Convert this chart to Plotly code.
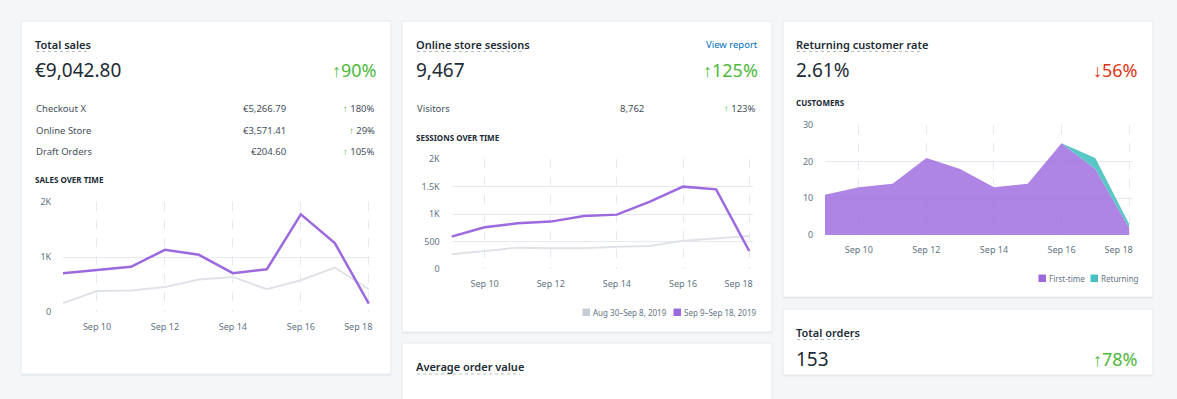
import plotly.graph_objects as go

W, H = 1177, 399

# ---------------- data ----------------
days = [9, 10, 11, 12, 13, 14, 15, 16, 17, 18]
tick_days = [10, 12, 14, 16, 18]
tick_labels = ["Sep 10", "Sep 12", "Sep 14", "Sep 16", "Sep 18"]

sales_current = [707, 762, 823, 1134, 1043, 707, 780, 1780, 1256, 152]
sales_previous = [165, 384, 390, 457, 591, 640, 415, 579, 811, 415]

sessions_current = [594, 764, 836, 867, 970, 994, 1230, 1503, 1454, 333]
sessions_previous = [273, 333, 394, 382, 382, 412, 424, 521, 564, 606]

customers_first = [11, 13, 14, 21, 18, 13, 14, 25, 18, 2]
customers_returning = [0, 0, 0, 0, 0, 0, 0, 0, 3, 1]

sales_ticks = [0, 1000, 2000]
sales_tick_text = ["0", "1K", "2K"]
sessions_ticks = [0, 500, 1000, 1500, 2000]
sessions_tick_text = ["0", "500", "1K", "1.5K", "2K"]
customer_ticks = [0, 10, 20, 30]

sales_rows = ["Checkout X", "Online Store", "Draft Orders"]
sales_row_values = ["€5,266.79", "€3,571.41", "€204.60"]
sales_row_pct = ["180%", "29%", "105%"]

legend_prev = "Aug 30–Sep 8, 2019"
legend_curr = "Sep 9–Sep 18, 2019"

# ---------------- style ----------------
FONT = "Noto Sans"
PURPLE = "#9c6ade"
GRAY_LINE = "#dfe3e8"
TEAL = "#47c1bf"
DARK = "#212b36"
TEXT2 = "#454f5b"
TICK = "#637381"
GREEN = "#50b83c"
RED = "#de3618"
BLUE = "#006fbb"
GRID = "#e6e9ed"
BG = "#f4f6f8"


def X(p):
    return p / W


def Y(p):
    return 1 - p / H


fig = go.Figure()

# chart 1: sales over time
fig.add_trace(go.Scatter(x=days, y=sales_previous, mode="lines", line=dict(color=GRAY_LINE, width=2),
                         xaxis="x", yaxis="y", showlegend=False, hoverinfo="skip"))
fig.add_trace(go.Scatter(x=days, y=sales_current, mode="lines", line=dict(color=PURPLE, width=2.5),
                         xaxis="x", yaxis="y", showlegend=False, hoverinfo="skip"))
# chart 2: sessions
fig.add_trace(go.Scatter(x=days, y=sessions_previous, mode="lines", line=dict(color=GRAY_LINE, width=2),
                         xaxis="x2", yaxis="y2", showlegend=False, hoverinfo="skip"))
fig.add_trace(go.Scatter(x=days, y=sessions_current, mode="lines", line=dict(color=PURPLE, width=2.5),
                         xaxis="x2", yaxis="y2", showlegend=False, hoverinfo="skip"))
# chart 3: customers (stacked area)
fig.add_trace(go.Scatter(x=days, y=customers_first, mode="lines", stackgroup="c",
                         line=dict(width=0, color=PURPLE), fillcolor="rgba(156,106,222,0.82)",
                         xaxis="x3", yaxis="y3", showlegend=False, hoverinfo="skip"))
fig.add_trace(go.Scatter(x=days, y=customers_returning, mode="lines", stackgroup="c",
                         line=dict(width=0, color=TEAL), fillcolor="rgba(71,193,191,0.9)",
                         xaxis="x3", yaxis="y3", showlegend=False, hoverinfo="skip"))

pad = "\u00a0" * 9
xt = [t + pad if i == len(tick_labels) - 1 else t for i, t in enumerate(tick_labels)]


def xaxis(x0, x1, hi, anchor):
    return dict(domain=[X(x0), X(x1)], range=[9, hi], anchor=anchor, automargin=False,
                tickmode="array", tickvals=tick_days, ticktext=xt,
                showgrid=True, gridcolor=GRID, griddash="dash", gridwidth=1,
                zeroline=False, showline=False,
                ticks="outside", ticklen=6, tickcolor="rgba(0,0,0,0)",
                tickfont=dict(family=FONT, size=9, color=TICK), fixedrange=True)


def yaxis(y0, y1, rng, tv, tt, anchor):
    return dict(domain=[Y(y0), Y(y1)], range=rng, anchor=anchor, automargin=False,
                tickmode="array", tickvals=tv, ticktext=tt,
                showgrid=True, gridcolor=GRID, gridwidth=1, zeroline=False,
                showline=False, ticks="outside", ticklen=9, tickcolor="rgba(0,0,0,0)",
                tickfont=dict(family=FONT, size=9, color=TICK), fixedrange=True)


layout = dict(
    width=W, height=H, margin=dict(l=0, r=0, t=0, b=0, pad=0, autoexpand=False),
    paper_bgcolor=BG, plot_bgcolor="rgba(0,0,0,0)", showlegend=False,
    font=dict(family=FONT, color=DARK),
    xaxis=xaxis(63, 370.5, 18.05, "y"),
    yaxis=yaxis(312, 202.3, [0, 2000], sales_ticks, sales_tick_text, "x"),
    xaxis2=xaxis(451.5, 752.5, 18.1, "y2"),
    yaxis2=yaxis(269.3, 159.3, [0, 2000], sessions_ticks, sessions_tick_text, "x2"),
    xaxis3=xaxis(825, 1132.5, 18.1, "y3"),
    yaxis3=yaxis(235, 125, [0, 30], customer_ticks, [str(v) for v in customer_ticks], "x3"),
)

shapes = []
# cards
cards = [(21, 21, 391, 374), (402, 21, 772, 332), (402, 343, 772, 420),
         (783, 21, 1153, 297), (783, 309, 1153, 375)]
for (a, b, c, d) in cards:
    shapes.append(dict(type="rect", xref="paper", yref="paper", x0=X(a), x1=X(c), y0=Y(d + 1.5), y1=Y(b),
                       fillcolor="#e3e7eb", line=dict(width=0), layer="below"))
    shapes.append(dict(type="rect", xref="paper", yref="paper", x0=X(a), x1=X(c), y0=Y(d), y1=Y(b),
                       fillcolor="white", line=dict(color="#e7eaee", width=1), layer="below"))

# dotted underlines below titles
for (a, c, yy) in [(36, 88, 51.5), (417, 524, 51.5), (797, 922, 51.5), (417, 520, 374), (797, 858, 339.5)]:
    shapes.append(dict(type="line", xref="paper", yref="paper", x0=X(a), x1=X(c), y0=Y(yy), y1=Y(yy),
                       line=dict(color="#b5bcc4", width=1, dash="dot"), layer="above"))

# legend swatches
for (a, yy, col) in [(582.5, 312.3, "#c4cdd5"), (673.5, 312.3, PURPLE), (1038.5, 278.3, PURPLE), (1090.5, 278.3, TEAL)]:
    shapes.append(dict(type="rect", xref="paper", yref="paper", x0=X(a), x1=X(a + 7.5),
                       y0=Y(yy + 3.75), y1=Y(yy - 3.75), fillcolor=col, line=dict(width=0), layer="above"))

layout["shapes"] = shapes

ann = []


def txt(x, y, s, size, color=DARK, anchor="left", weight=400):
    ann.append(dict(xref="paper", yref="paper", x=X(x), y=Y(y), text=s, showarrow=False,
                    xanchor=anchor, yanchor="middle", borderpad=0, borderwidth=0,
                    font=dict(family=FONT, size=size, color=color, weight=weight)))


# card 1: total sales
txt(35, 44, "Total sales", 11, weight=600)
txt(35, 70, "€9,042.80", 19)
txt(377, 70, "↑90%", 18, GREEN, "right")
for i, (lab, val, pct) in enumerate(zip(sales_rows, sales_row_values, sales_row_pct)):
    yy = 109 + i * 21
    txt(36, yy, lab, 9.5, TEXT2)
    txt(286, yy, val, 9.5, TEXT2, "right")
    txt(375, yy, f'<span style="color:{GREEN}">↑</span> {pct}', 9.5, TEXT2, "right")
txt(35, 179.5, "SALES OVER TIME", 8, weight=700)

# card 2: sessions
txt(416, 44, "Online store sessions", 11, weight=600)
txt(757.5, 44, "View report", 9.5, BLUE, "right")
txt(416, 70, "9,467", 19)
txt(757.5, 70, "↑125%", 18, GREEN, "right")
txt(417, 109, "Visitors", 9.5, TEXT2)
txt(644, 109, "8,762", 9.5, TEXT2, "right")
txt(756, 109, f'<span style="color:{GREEN}">↑</span> 123%', 9.5, TEXT2, "right")
txt(416, 137.5, "SESSIONS OVER TIME", 8, weight=700)
txt(592.5, 312.3, legend_prev, 8, TICK)
txt(683.5, 312.3, legend_curr, 8, TICK)

# card 3 bottom middle
txt(416, 366.5, "Average order value", 11, weight=600)

# card 4: returning customers
txt(796, 44, "Returning customer rate", 11, weight=600)
txt(796, 70.5, "2.61%", 19)
txt(1138, 70.5, "↓56%", 18, RED, "right")
txt(796, 102.7, "CUSTOMERS", 8, weight=700)
txt(1049, 278.3, "First-time", 8, TICK)
txt(1101, 278.3, "Returning", 8, TICK)

# card 5: total orders
txt(796, 332.3, "Total orders", 11, weight=600)
txt(796, 359, "153", 19)
txt(1138, 359, "↑78%", 18, GREEN, "right")

layout["annotations"] = ann
fig.update_layout(**layout)

fig.write_html("out.html", config={"displayModeBar": False},
               post_script="document.body.style.margin='0';document.body.style.overflow='hidden';")
